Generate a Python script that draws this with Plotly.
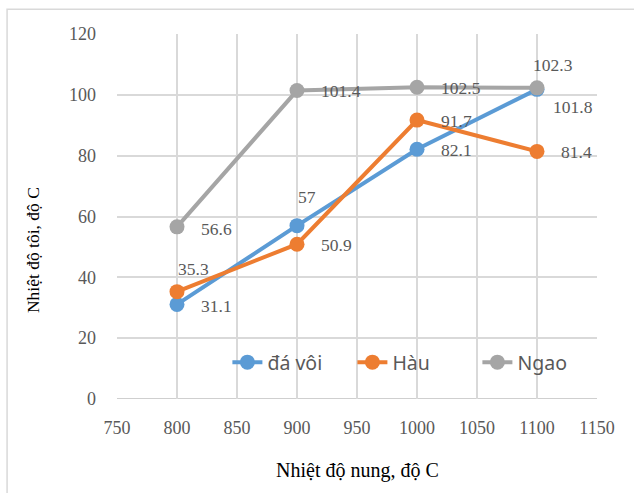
import plotly.graph_objects as go

temps = [800, 900, 1000, 1100]
da_voi = [31.1, 57, 82.1, 101.8]
hau = [35.3, 50.9, 91.7, 81.4]
ngao = [56.6, 101.4, 102.5, 102.3]
series_names = ["đá vôi", "Hàu", "Ngao"]
x_ticks = [750, 800, 850, 900, 950, 1000, 1050, 1100, 1150]
y_ticks = [0, 20, 40, 60, 80, 100, 120]
x_title = "Nhiệt độ nung, độ C"
y_title = "Nhiệt độ tôi, độ C"

colors = ["#5B9BD5", "#ED7D31", "#A5A5A5"]
# label offsets (xshift, yshift, anchor) in pixels, per series, per point
offsets = [
    [(22, -2, "left"), (10, 29, "center"), (22, -1, "left"), (14, -18, "left")],
    [(16, 23, "center"), (22, -1, "left"), (22, -1, "left"), (22, -1, "left")],
    [(22, -2, "left"), (22, 0, "left"), (22, -1, "left"), (16, 23, "center")],
]

fig = go.Figure()
all_series = [da_voi, hau, ngao]
for name, vals, col in zip(series_names, all_series, colors):
    fig.add_trace(go.Scatter(
        x=temps, y=vals, name=name, mode="lines+markers",
        line=dict(color=col, width=4),
        marker=dict(color=col, size=15),
    ))

for vals, offs in zip(all_series, offsets):
    for xv, yv, (dx, dy, anc) in zip(temps, vals, offs):
        fig.add_annotation(
            x=xv, y=yv, text=f"{yv:g}", showarrow=False,
            xanchor=anc, yanchor="middle",
            xshift=dx, yshift=dy,
            font=dict(family="Liberation Serif", size=17.5, color="#595959"),
        )

# axis titles
fig.add_annotation(xref="paper", yref="paper", x=0.5, y=-0.197,
                   text=x_title, showarrow=False, xanchor="center", yanchor="middle",
                   font=dict(family="Liberation Serif", size=20, color="#000000"))
fig.add_annotation(xref="paper", yref="paper", x=-0.175, y=0.408,
                   text=y_title, showarrow=False, textangle=-90,
                   xanchor="center", yanchor="middle",
                   font=dict(family="Liberation Serif", size=17.5, color="#000000"))

fig.add_shape(type="rect", xref="paper", yref="paper",
              x0=-0.229, y0=-0.4, x1=1.2, y1=1.068,
              line=dict(color="#D9D9D9", width=1.5), layer="below")

fig.update_layout(
    autosize=False, width=634, height=493,
    margin=dict(l=117, r=37, t=34, b=94),
    paper_bgcolor="white", plot_bgcolor="white",
    showlegend=True,
    legend=dict(orientation="h", x=0.23, y=0.10, xanchor="left", yanchor="middle",
                bgcolor="rgba(0,0,0,0)",
                font=dict(family="Noto Sans", size=19.5, color="#595959"),
                entrywidth=80, entrywidthmode="pixels"),
    xaxis=dict(range=[750, 1150], tickvals=x_ticks, showgrid=True,
               gridcolor="#D9D9D9", gridwidth=1.5, zeroline=False,
               showline=False, ticks="", ticklabelstandoff=16,
               tickfont=dict(family="Liberation Serif", size=18, color="#595959")),
    yaxis=dict(range=[0, 120], tickvals=y_ticks, showgrid=True,
               gridcolor="#D9D9D9", gridwidth=1.5, zeroline=False,
               showline=False, ticks="", ticklabelstandoff=20,
               tickfont=dict(family="Liberation Serif", size=18, color="#595959")),
)
fig.add_hline(y=0, line=dict(color="#BFBFBF", width=1.5), layer="below")

fig.write_html("out.html")
